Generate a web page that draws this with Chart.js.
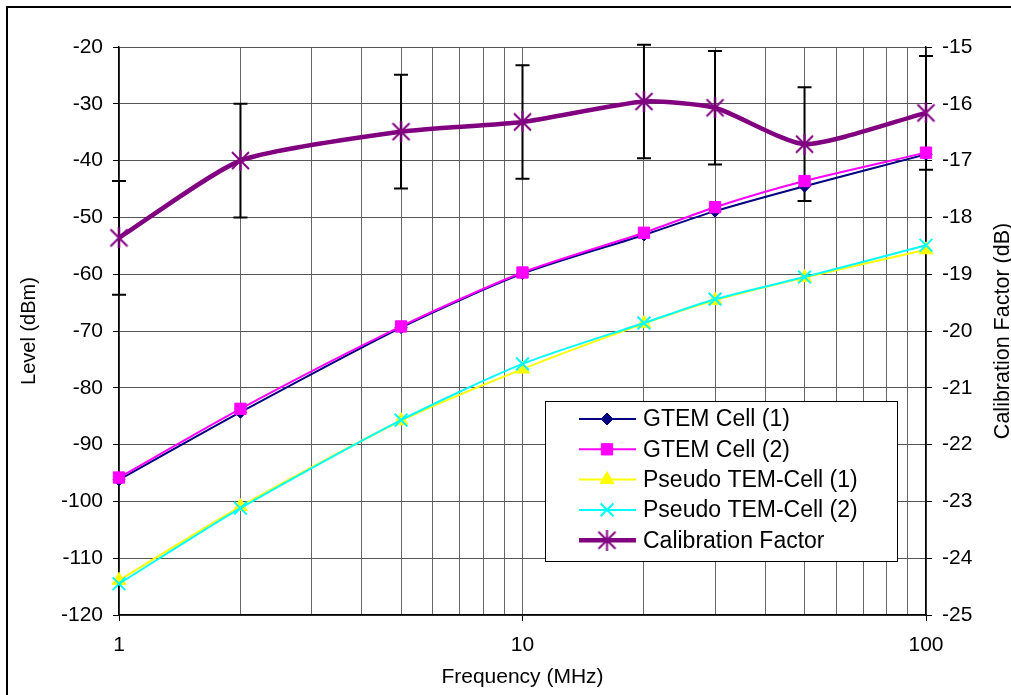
<!DOCTYPE html>
<html>
<head>
<meta charset="utf-8">
<script src="https://cdn.jsdelivr.net/npm/chart.js@4.4.0/dist/chart.umd.min.js"></script>
<style>
    html, body { margin: 0; padding: 0; background: #fff; overflow: hidden; }
    #frame { position: absolute; left: 6px; top: 6px; width: 1100px; height: 800px; border: 2px solid #000; }
    #wrap { position: absolute; left: 0; top: 0; width: 1011px; height: 695px; }
</style>
</head>
<body>
<div id="frame"></div>
<div id="wrap"><canvas id="myChart" width="1011" height="695"></canvas></div>
<script>
// frequencies (MHz)
const freq = [1, 2, 5, 10, 20, 30, 50, 100];

// levels in dBm (left axis)
const gtem1 = [-96.2, -84.3, -69.4, -59.9, -53.1, -48.9, -44.5, -38.9];
const gtem2 = [-95.8, -83.7, -69.2, -59.7, -52.7, -48.2, -43.6, -38.6];
const pseudo1 = [-113.9, -100.9, -85.8, -76.7, -68.7, -64.6, -60.6, -55.7];
const pseudo2 = [-114.5, -101.2, -85.7, -75.8, -68.6, -64.4, -60.5, -54.9];

// calibration factor in dB (right axis) and its error bar
const calib = [-18.36, -17.0, -16.49, -16.32, -15.96, -16.07, -16.71, -16.16];
const calibErr = [1, 1, 1, 1, 1, 1, 1, 1];

const xTickLabels = [1, 10, 100];
const seriesNames = ['GTEM Cell (1)', 'GTEM Cell (2)', 'Pseudo TEM-Cell (1)', 'Pseudo TEM-Cell (2)', 'Calibration Factor'];

// grid lines for every decade step 1..9
const xGrid = [];
[1, 10].forEach(dec => {
    for (let d = 1; d < 10; d++) xGrid.push(d * dec);
});
xGrid.push(100);

Chart.defaults.font.family = '"Liberation Sans", Arial, sans-serif';
Chart.defaults.color = '#000';

// excel style star marker: X with a vertical bar
const makeStar = (size, color) => {
    const c = document.createElement('canvas');
    c.width = size; c.height = size;
    const g = c.getContext('2d');
    g.strokeStyle = color;
    g.lineWidth = 2;
    g.beginPath();
    g.moveTo(2, 2); g.lineTo(size - 2, size - 2);
    g.moveTo(size - 2, 2); g.lineTo(2, size - 2);
    g.moveTo(size / 2, 0); g.lineTo(size / 2, size);
    g.stroke();
    return c;
};
const starImg = makeStar(21, '#800080');

const toPoints = values => values.map((v, i) => ({x: freq[i], y: v}));

const errorBars = {
    id: 'errorBars',
    beforeDatasetsDraw(chart) {
        const {ctx} = chart;
        const xs = chart.scales.x;
        const ys = chart.scales.yR;
        ctx.save();
        ctx.strokeStyle = '#000';
        ctx.lineWidth = 2;
        freq.forEach((f, i) => {
            const px = xs.getPixelForValue(f);
            const top = ys.getPixelForValue(calib[i] + calibErr[i]);
            const bot = ys.getPixelForValue(calib[i] - calibErr[i]);
            ctx.beginPath();
            ctx.moveTo(px, top); ctx.lineTo(px, bot);
            ctx.moveTo(px - 7, top); ctx.lineTo(px + 7, top);
            ctx.moveTo(px - 7, bot); ctx.lineTo(px + 7, bot);
            ctx.stroke();
        });
        ctx.restore();
    }
};

const boxLegend = {
    id: 'boxLegend',
    afterDraw(chart) {
        const {ctx} = chart;
        const left = 545, top = 401, w = 352, h = 160;
        ctx.save();
        ctx.fillStyle = '#fff';
        ctx.fillRect(left, top, w, h);
        ctx.strokeStyle = '#000';
        ctx.lineWidth = 1;
        ctx.strokeRect(left + 0.5, top + 0.5, w, h);

        chart.data.datasets.forEach((ds, i) => {
            const y = 419 + i * 30.3;
            ctx.strokeStyle = ds.borderColor;
            ctx.lineWidth = ds.borderWidth;
            ctx.beginPath();
            ctx.moveTo(579, y);
            ctx.lineTo(636, y);
            ctx.stroke();

            ctx.fillStyle = ds.pointBackgroundColor;
            ctx.strokeStyle = ds.pointBorderColor;
            ctx.lineWidth = ds.pointBorderWidth;
            Chart.helpers.drawPoint(ctx, {
                pointStyle: ds.pointStyle,
                radius: ds.pointRadius,
                rotation: 0,
                borderWidth: ds.pointBorderWidth
            }, 607, y);

            ctx.fillStyle = '#000';
            ctx.font = '23px "Liberation Sans", Arial, sans-serif';
            ctx.textBaseline = 'middle';
            ctx.textAlign = 'left';
            ctx.fillText(ds.label, 643, y + 1);
        });

        // right axis title, reading bottom to top like the left one
        const area = chart.chartArea;
        ctx.translate(1003, (area.top + area.bottom) / 2);
        ctx.rotate(-Math.PI / 2);
        ctx.font = '21.5px "Liberation Sans", Arial, sans-serif';
        ctx.textAlign = 'center';
        ctx.textBaseline = 'middle';
        ctx.fillText('Calibration Factor (dB)', 0, 0);
        ctx.restore();
    }
};

const ctx = document.getElementById('myChart').getContext('2d');

new Chart(ctx, {
    type: 'line',
    data: {
        datasets: [
            {
                label: seriesNames[0], data: toPoints(gtem1), yAxisID: 'yL', order: 5,
                borderColor: '#000080', borderWidth: 2,
                pointStyle: 'rectRot', pointRadius: 6,
                pointBackgroundColor: '#000080', pointBorderColor: '#000080', pointBorderWidth: 1
            },
            {
                label: seriesNames[1], data: toPoints(gtem2), yAxisID: 'yL', order: 4,
                borderColor: '#ff00ff', borderWidth: 2,
                pointStyle: 'rect', pointRadius: 8,
                pointBackgroundColor: '#ff00ff', pointBorderColor: '#ff00ff', pointBorderWidth: 1
            },
            {
                label: seriesNames[2], data: toPoints(pseudo1), yAxisID: 'yL', order: 3,
                borderColor: '#ffff00', borderWidth: 2,
                pointStyle: 'triangle', pointRadius: 8,
                pointBackgroundColor: '#ffff00', pointBorderColor: '#ffff00', pointBorderWidth: 1
            },
            {
                label: seriesNames[3], data: toPoints(pseudo2), yAxisID: 'yL', order: 2,
                borderColor: '#00ffff', borderWidth: 2,
                pointStyle: 'crossRot', pointRadius: 9,
                pointBackgroundColor: '#00ffff', pointBorderColor: '#00ffff', pointBorderWidth: 2
            },
            {
                label: seriesNames[4], data: toPoints(calib), yAxisID: 'yR', order: 1,
                borderColor: '#800080', borderWidth: 4.5,
                pointStyle: starImg, pointRadius: 10,
                pointBackgroundColor: '#800080', pointBorderColor: '#800080', pointBorderWidth: 2,
                tension: 0.2
            }
        ]
    },
    options: {
        responsive: false,
        animation: false,
        events: [],
        layout: {padding: {top: 47, left: 0, right: 0, bottom: 0}},
        datasets: {line: {clip: false, tension: 0.25, fill: false}},
        plugins: {legend: {display: false}, tooltip: {enabled: false}},
        scales: {
            x: {
                type: 'logarithmic',
                min: 1,
                max: 100,
                afterBuildTicks: scale => {
                    scale.ticks = xGrid.map(v => ({value: v, major: xTickLabels.includes(v)}));
                },
                afterFit: scale => { scale.height = 80; },
                ticks: {
                    autoSkip: false,
                    maxRotation: 0,
                    padding: 12,
                    font: {size: 21},
                    callback: v => xTickLabels.includes(v) ? String(v) : ''
                },
                grid: {
                    color: '#666',
                    lineWidth: 1,
                    tickLength: 6,
                    tickColor: c => (c.tick && xTickLabels.includes(c.tick.value)) ? '#000' : 'rgba(0,0,0,0)'
                },
                border: {color: '#000', width: 1.5},
                title: {display: true, text: 'Frequency (MHz)', font: {size: 21}, padding: {top: 0, bottom: 5}}
            },
            yL: {
                type: 'linear',
                position: 'left',
                min: -120,
                max: -20,
                afterFit: scale => { scale.width = 119; },
                ticks: {stepSize: 10, padding: 10, font: {size: 21}},
                grid: {color: '#555', lineWidth: 1, tickLength: 6, tickColor: '#000'},
                border: {color: '#000', width: 1.5},
                title: {display: true, text: 'Level (dBm)', font: {size: 20}, padding: {top: 17, bottom: 0}}
            },
            yR: {
                type: 'linear',
                position: 'right',
                min: -25,
                max: -15,
                afterFit: scale => { scale.width = 85; },
                ticks: {stepSize: 1, padding: 10, font: {size: 21}},
                grid: {drawOnChartArea: false, tickLength: 6, tickColor: '#000'},
                border: {color: '#000', width: 1.5}
            }
        }
    },
    plugins: [errorBars, boxLegend]
});
</script>
</body>
</html>
